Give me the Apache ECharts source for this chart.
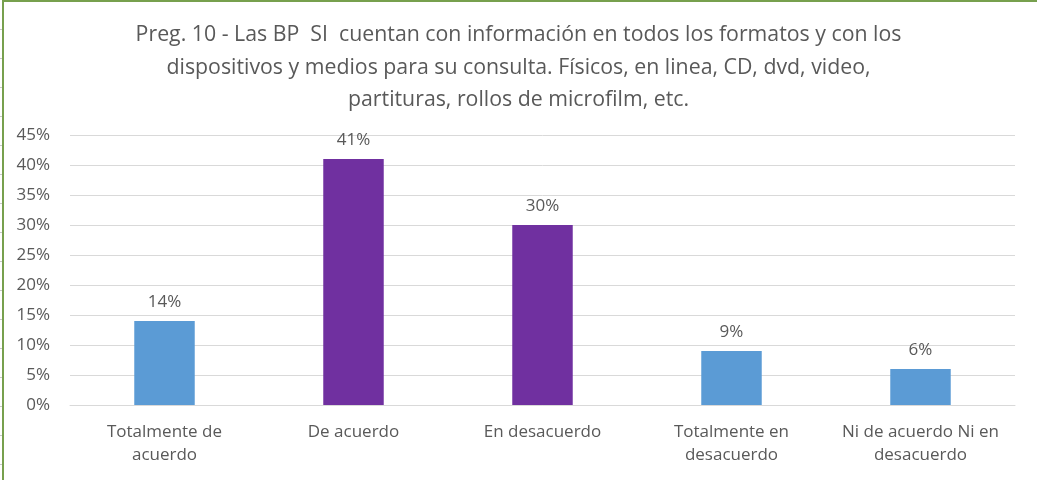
<!DOCTYPE html>
<html>
<head>
<meta charset="utf-8">
<script src="https://cdn.jsdelivr.net/npm/echarts@6/dist/echarts.min.js"></script>
<style>
  html, body { margin: 0; padding: 0; background: #fff; }
  #frame { position: absolute; left: 0; top: 0; width: 1037px; height: 480px; overflow: hidden; }
  #cells { position: absolute; left: 0; top: 1px; width: 2px; height: 480px;
           background: repeating-linear-gradient(to bottom, transparent 0, transparent 28px, #C8C8C8 28px, #C8C8C8 29px); }
  #edge { position: absolute; left: 2px; top: 0; width: 1035px; height: 480px;
          border-left: 2px solid #77A04E; border-top: 2px solid #77A04E; box-sizing: border-box; }
  #chart { position: absolute; left: 0; top: 0; width: 1037px; height: 480px; }
</style>
</head>
<body>
<div id="frame">
  <div id="chart"></div>
  <div id="cells"></div>
  <div id="edge"></div>
</div>
<script>
// Survey answers for question 10
const titleText = 'Preg. 10 - Las BP  SI  cuentan con información en todos los formatos y con los\ndispositivos y medios para su consulta. Físicos, en linea, CD, dvd, video,\npartituras, rollos de microfilm, etc.';
const categories = [
  'Totalmente de\nacuerdo',
  'De acuerdo',
  'En desacuerdo',
  'Totalmente en\ndesacuerdo',
  'Ni de acuerdo Ni en\ndesacuerdo'
];
const shares = [0.14, 0.41, 0.30, 0.09, 0.06];
const barColors = ['#5B9BD5', '#7030A0', '#7030A0', '#5B9BD5', '#5B9BD5'];
const yTicks = { min: 0, max: 0.45, interval: 0.05 };

const font = '"Open Sans", Calibri, sans-serif';
const textColor = '#595959';

const chart = echarts.init(document.getElementById('chart'), null, { renderer: 'canvas' });
chart.setOption({
  animation: false,
  backgroundColor: '#ffffff',
  title: {
    text: titleText,
    left: 'center',
    top: 14,
    textStyle: { fontFamily: font, fontSize: 21.3, fontWeight: 'normal', color: textColor, lineHeight: 32.5 }
  },
  grid: { left: 70, right: 22, top: 135, bottom: 75 },
  xAxis: {
    type: 'category',
    data: categories,
    axisLine: { lineStyle: { color: '#D9D9D9', width: 1 } },
    axisTick: { show: false },
    axisLabel: { fontFamily: font, fontSize: 17, color: textColor, lineHeight: 23, margin: 16, interval: 0 }
  },
  yAxis: {
    type: 'value',
    min: yTicks.min,
    max: yTicks.max,
    interval: yTicks.interval,
    axisLine: { show: false },
    axisTick: { show: false },
    splitLine: { lineStyle: { color: '#D9D9D9', width: 1 } },
    axisLabel: {
      fontFamily: font, fontSize: 17, color: textColor, margin: 20,
      formatter: v => Math.round(v * 100) + '%'
    }
  },
  series: [{
    type: 'bar',
    data: shares.map((v, i) => ({ value: v, itemStyle: { color: barColors[i] } })),
    barWidth: '32%',
    label: {
      show: true,
      position: 'top',
      distance: 10,
      fontFamily: font, fontSize: 17, color: textColor,
      formatter: p => Math.round(p.value * 100) + '%'
    }
  }]
});
</script>
</body>
</html>
